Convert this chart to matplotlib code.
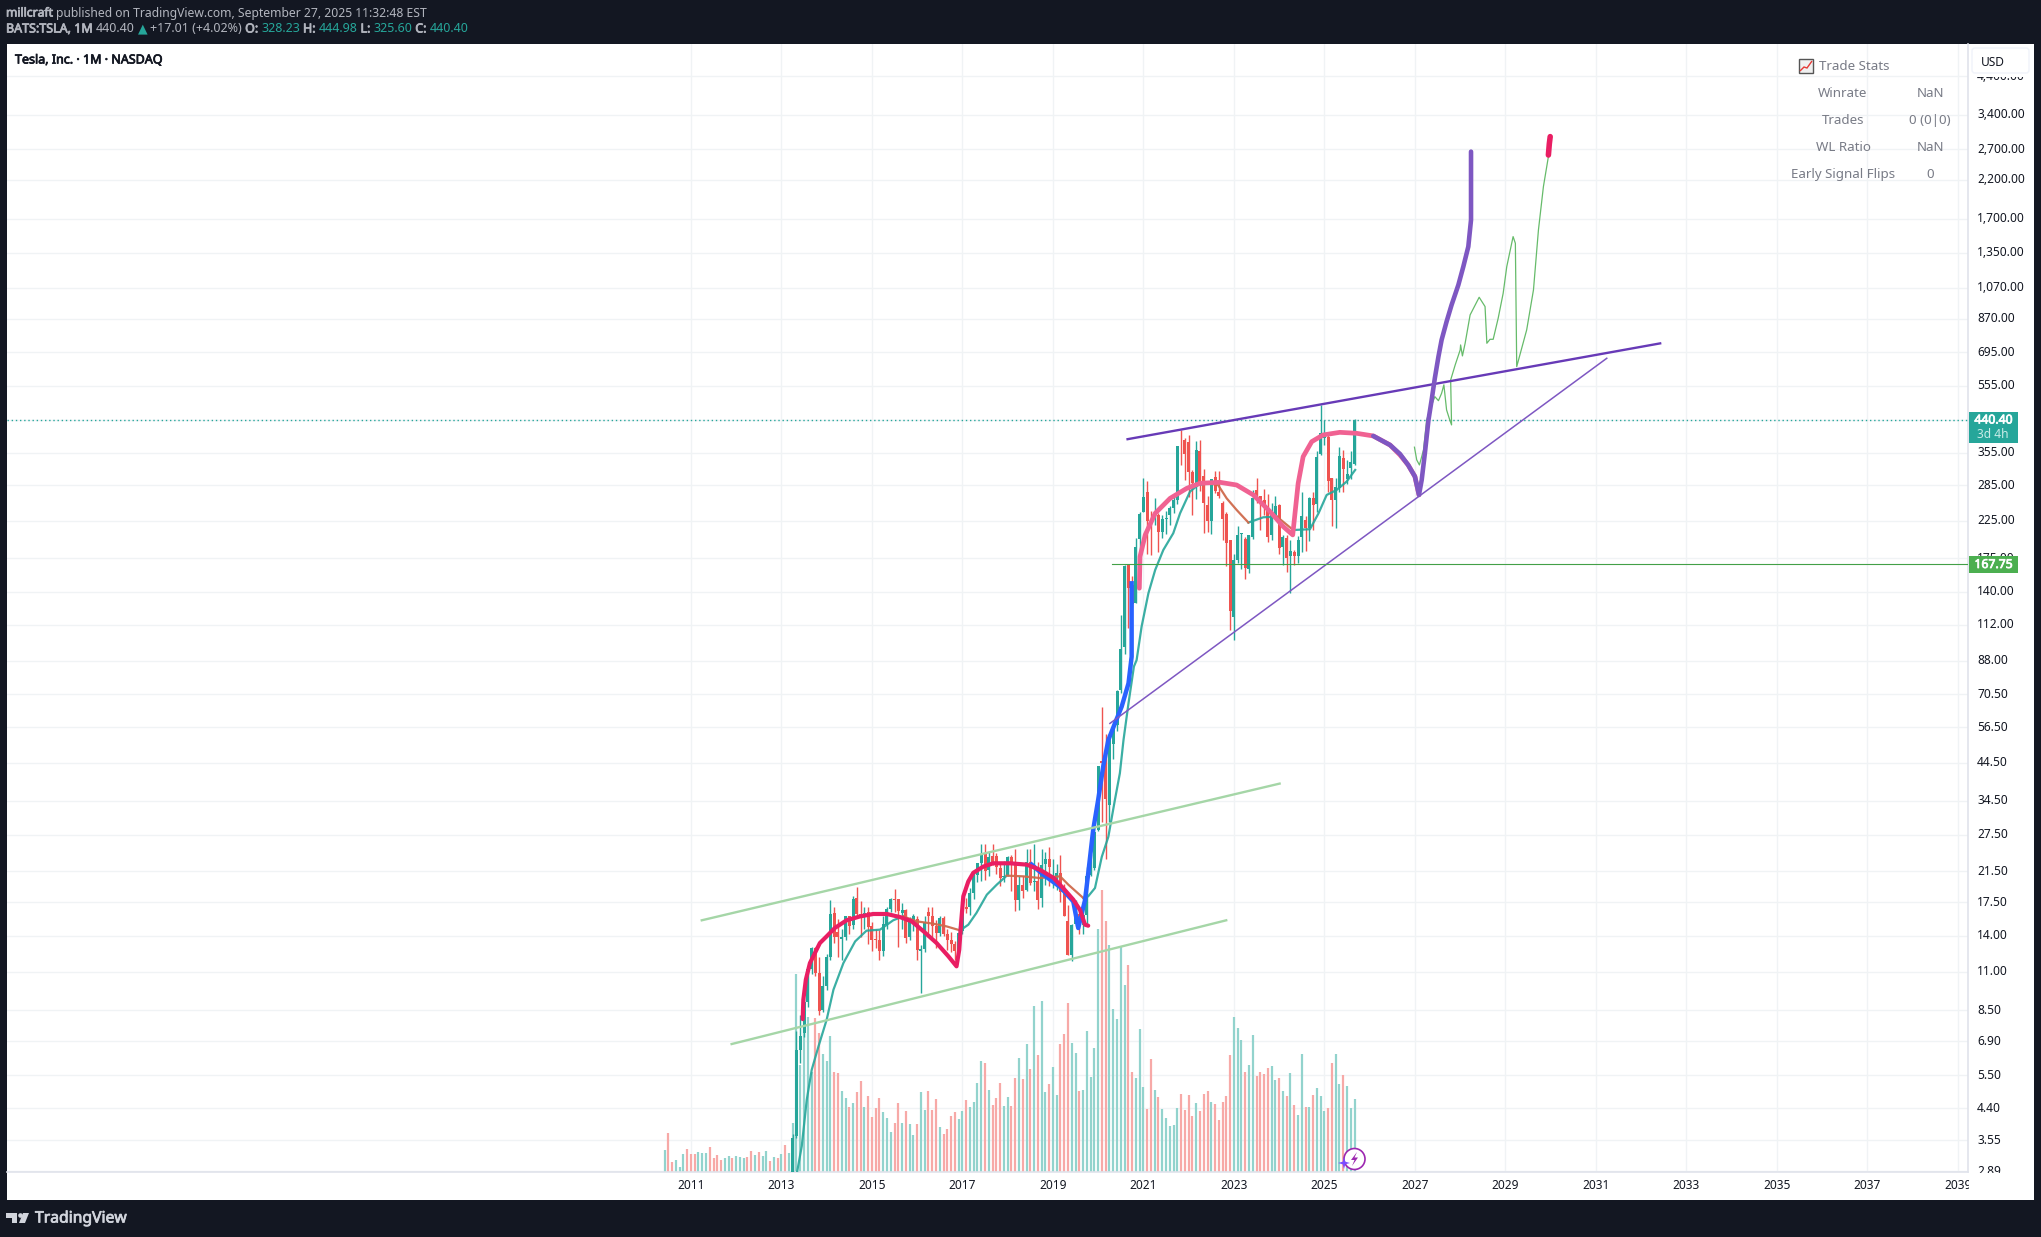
import matplotlib
matplotlib.use("Agg")
import numpy as np
import matplotlib.pyplot as plt
import matplotlib.patheffects as pe
from matplotlib.patches import Rectangle, FancyBboxPatch, Circle, Polygon
from matplotlib.transforms import Affine2D

plt.rcParams['font.family'] = ['Noto Sans', 'DejaVu Sans']

# monthly candles, Apr 2013 to Sep 2025
opens = [2.53, 3.66, 6.5, 7.3, 9.0, 11.2, 12.9, 10.9, 8.5,
         10.0, 12.1, 16.3, 14.3, 13.7, 13.9, 16.0, 15.0, 18.0, 16.2, 16.0, 16.4,
         14.9, 13.7, 13.6, 12.6, 15.0, 16.7, 17.9, 17.9, 16.3, 16.6, 13.9, 15.4,
         15.6, 12.6, 12.8, 16.4, 16.0, 14.9, 14.2, 15.7, 14.1, 13.6, 13.2, 12.7,
         14.4, 17.0, 17.0, 18.6, 21.0, 22.7, 24.2, 21.7, 23.8, 23.9, 22.0, 20.7,
         21.0, 23.6, 22.9, 17.7, 19.6, 19.0, 22.9, 20.0, 20.1, 18.0, 22.6, 23.4,
         20.4, 20.4, 21.3, 18.8, 15.4, 12.3, 15.1, 16.2, 15.0, 16.1, 21.0, 22.0,
         28.3, 44.9, 47.0, 33.6, 50.3, 57.3, 72.2, 96.6, 167.4, 146, 130, 199,
         239, 273, 225, 229, 234, 208, 227, 233, 245, 259, 381, 386,
         382, 311, 290, 358, 303, 249, 224, 302, 272, 254, 235, 197,
         118, 173, 206, 199, 163, 202, 276, 266, 258, 244, 205, 234,
         250, 188, 200, 177, 182, 178, 202, 226, 214, 262, 252, 352,
         390, 394, 300, 259, 280, 343, 298, 320, 328.23]
highs = [3.7, 7.4, 8.25, 9.2, 11.3, 13.0, 12.95, 12.1, 10.7,
         12.4, 17.8, 17.0, 15.6, 14.6, 16.0, 15.9, 18.2, 19.4, 17.6, 16.9, 16.9,
         15.3, 14.6, 14.5, 15.9, 17.0, 18.0, 19.1, 17.9, 17.4, 16.7, 15.8, 16.2,
         15.9, 13.1, 15.9, 17.0, 16.9, 15.5, 15.9, 15.9, 14.6, 14.3, 13.5, 14.9,
         17.2, 18.0, 19.3, 21.6, 22.8, 25.8, 25.9, 24.7, 25.8, 24.3, 22.9, 23.0,
         23.9, 24.0, 24.9, 20.9, 20.8, 24.9, 24.9, 25.8, 22.9, 24.9, 24.5, 25.3,
         23.4, 22.6, 24.0, 19.7, 17.2, 15.1, 17.7, 16.4, 16.9, 22.1, 24.2, 29.0,
         43.5, 64.6, 53.8, 53.8, 56.0, 72.5, 120, 167, 167, 155, 200, 239,
         300, 293, 240, 261, 236, 233, 240, 248, 265, 371, 414, 390,
         400, 315, 384, 385, 318, 265, 298, 314, 313, 257, 238, 198,
         180, 217, 207, 202, 204, 276, 300, 266, 278, 269, 253, 265,
         252, 205, 204, 198, 185, 203, 272, 232, 264, 273, 358, 488,
         440, 400, 300, 300, 368, 362, 338, 359, 444.98]
lows = [2.5, 3.6, 5.95, 7.1, 8.7, 10.8, 10.7, 8.2, 8.4,
        9.7, 11.9, 13.3, 12.1, 11.9, 13.6, 14.1, 14.6, 15.9, 13.9, 14.6, 13.2,
        12.6, 12.9, 11.9, 12.2, 14.6, 16.4, 16.4, 13.0, 14.6, 13.3, 13.6, 14.4,
        11.9, 9.5, 12.5, 13.9, 13.9, 12.9, 14.0, 14.0, 12.7, 12.5, 11.9, 12.5,
        14.1, 16.3, 16.1, 17.9, 20.0, 20.2, 20.3, 20.8, 22.5, 21.1, 19.5, 20.0,
        20.9, 18.9, 16.5, 16.6, 18.0, 18.9, 19.6, 18.9, 16.7, 16.9, 19.6, 19.5,
        19.2, 19.0, 17.5, 15.9, 12.3, 11.8, 14.9, 14.1, 14.1, 14.9, 20.9, 21.7,
        28.1, 30.0, 23.4, 30.0, 45.6, 55.2, 71.0, 92.0, 110, 126, 130, 180,
        239, 180, 179, 219, 182, 200, 206, 218, 236, 252, 326, 295,
        264, 233, 260, 275, 207, 208, 206, 271, 262, 198, 166, 108,
        101, 169, 163, 152, 158, 199, 254, 212, 234, 195, 197, 228,
        180, 167, 160, 139, 167, 169, 182, 183, 196, 212, 238, 349,
        373, 272, 217, 214, 272, 273, 288, 297, 325.6]
closes = [3.6, 6.5, 7.16, 8.95, 11.2, 12.9, 10.9, 8.45, 10.0,
          12.1, 16.2, 13.9, 13.9, 13.9, 16.0, 14.9, 17.9, 16.2, 16.1, 16.3, 14.8,
          13.6, 13.6, 12.6, 15.1, 16.7, 17.9, 17.8, 16.5, 16.6, 13.8, 15.4, 16.0,
          12.7, 12.8, 15.3, 16.0, 14.9, 14.2, 15.7, 14.1, 13.6, 13.2, 12.6, 14.2,
          16.9, 16.7, 18.6, 20.9, 22.7, 24.1, 21.6, 23.7, 22.7, 22.1, 20.6, 20.8,
          23.6, 22.9, 17.7, 19.6, 18.9, 22.9, 19.9, 20.1, 17.7, 22.5, 23.4, 22.2,
          20.5, 21.3, 18.7, 15.9, 12.3, 15.0, 16.1, 15.0, 16.1, 20.9, 22.0, 27.9,
          43.4, 44.5, 34.9, 52.1, 55.7, 71.9, 95.4, 166.1, 143, 129, 189, 235,
          264, 225, 222, 236, 208, 227, 229, 245, 258, 371, 380, 352,
          312, 290, 360, 290, 253, 224, 297, 275, 265, 227, 194, 123,
          173, 205, 207, 164, 204, 262, 267, 258, 250, 201, 240, 248,
          187, 201, 175, 183, 178, 197, 232, 214, 261, 250, 345, 404,
          404, 293, 259, 282, 346, 318, 308, 334, 440.40]

# monthly volume, Jun 2010 to Sep 2025, in pane pixels since the scale is hidden
volumes = [22, 39, 10, 12, 5, 18, 23,
           18, 18, 20, 19, 19, 25, 14, 17, 12, 14, 16, 14,
           16, 15, 14, 15, 21, 17, 20, 16, 21, 11, 15, 14,
           18, 27, 19, 49, 198, 107, 155, 155, 100, 154, 139, 118,
           111, 136, 100, 99, 81, 74, 65, 69, 80, 91, 65, 76,
           55, 64, 74, 60, 54, 40, 49, 69, 49, 61, 48, 37,
           48, 80, 62, 81, 62, 73, 45, 38, 43, 56, 60, 53,
           61, 72, 65, 70, 89, 111, 109, 82, 67, 74, 89, 66,
           75, 66, 94, 114, 93, 128, 103, 166, 117, 171, 80, 88,
           105, 77, 128, 138, 169, 129, 119, 81, 82, 141, 95, 124,
           243, 282, 251, 227, 163, 153, 226, 187, 207, 100, 94, 143,
           85, 63, 113, 82, 75, 63, 54, 46, 47, 64, 78, 62,
           77, 56, 69, 61, 78, 81, 70, 68, 52, 70, 76, 117,
           155, 144, 132, 100, 107, 137, 96, 100, 98, 104, 106, 92,
           94, 81, 76, 99, 67, 57, 118, 65, 65, 77, 84, 76,
           61, 64, 109, 118, 88, 97, 86, 64, 73]
volume_dirs = ("grrgggr" "rrgggrrrrggr" "gggrrgrggrgr" "grgggggggrrg" "ggrrggrgrrgr"
               "rrrgggrrgrgg" "rggrrrgrrrrg" "grggggrgrrrg" "grrgrgrgrggr" "ggrrrggrgggg"
               "grrgggggrrgg" "grrgrgggggrr" "rrgrrrgrrrrr" "gggrggrrrrgg" "rgrgrggrgrgg"
               "grrggrggg")

# price scale
price_ticks = [4400, 3400, 2700, 2200, 1700, 1350, 1070, 870, 695, 555, 440, 355, 285, 225,
               175, 140, 112, 88, 70.5, 56.5, 44.5, 34.5, 27.5, 21.5, 17.5, 14, 11, 8.5,
               6.9, 5.5, 4.4, 3.55, 2.89]
year_ticks = list(range(2011, 2041, 2))

# moving average pieces: teal where above, orange where the two colours overlap
ema_t1 = [2013.35, 2013.45, 2013.56, 2013.67, 2013.82, 2014.0, 2014.15, 2014.37, 2014.63, 2014.88, 2015.18, 2015.47, 2015.69]
ema_p1 = [2.89, 3.42, 4.66, 5.7, 6.67, 7.97, 9.74, 11.64, 13.46, 14.46, 14.56, 15.5, 15.91]
ema_t2 = [2016.95, 2017.13, 2017.31, 2017.54, 2017.76, 2017.98]
ema_p2 = [14.49, 15.05, 16.28, 18.4, 19.68, 20.9]
ema_t3 = [2019.67, 2019.78, 2019.93, 2020.08, 2020.225, 2020.37, 2020.48, 2020.56, 2020.67, 2020.79, 2020.85,
          2020.96, 2021.11, 2021.26, 2021.44, 2021.66, 2021.81, 2022.03, 2022.21, 2022.43]
ema_p3 = [18.0, 18.2, 19.24, 23.7, 27.1, 34.7, 41.5, 51.8, 66.2, 84.7, 88.5,
          110.7, 138.3, 161.7, 184.9, 206.8, 236.3, 273.3, 285.6, 288.9]
ema_t4 = [2023.32, 2023.65, 2023.95]
ema_p4 = [222.1, 230.1, 231.1]
ema_t5 = [2024.31, 2024.68, 2024.87, 2025.05, 2025.27, 2025.49, 2025.68]
ema_p5 = [211.3, 212.4, 236.3, 267.2, 276.3, 292.1, 315.9]
orange_t1 = [2015.69, 2015.99, 2016.36, 2016.65, 2016.95]
orange_p1 = [15.91, 15.39, 15.15, 14.88, 14.49]
orange_t2 = [2017.98, 2018.35, 2018.71, 2019.16, 2019.34, 2019.67]
orange_p2 = [20.9, 20.8, 20.57, 20.8, 19.68, 18.0]
orange_t3 = [2022.43, 2022.65, 2022.84, 2023.06, 2023.32]
orange_p3 = [288.9, 285.6, 261.2, 241.7, 222.1]
orange_t4 = [2023.95, 2024.31]
orange_p4 = [231.1, 211.3]

# drawn curves
red_t = [2013.47, 2013.485, 2013.54, 2013.63, 2013.74, 2013.85, 2014.0, 2014.18, 2014.44, 2014.74, 2015.03, 2015.33,
         2015.62, 2015.88, 2016.14, 2016.43, 2016.69, 2016.87, 2016.93, 2016.97, 2017.02, 2017.13, 2017.24, 2017.46,
         2017.68, 2018.05, 2018.42, 2018.71, 2019.01, 2019.23, 2019.45, 2019.6, 2019.71, 2019.78]
red_p = [8.0, 9.11, 10.42, 11.64, 12.45, 13.31, 13.92, 14.72, 15.5, 15.91, 16.17, 16.17,
         15.84, 15.39, 14.4, 13.31, 12.18, 11.39, 12.73, 15.2, 18.2, 20.1, 21.3, 22.2,
         22.7, 22.7, 22.5, 21.75, 20.6, 19.2, 17.8, 16.6, 15.05, 14.95]
blue_t = [2018.53, 2018.79, 2019.16, 2019.45, 2019.56, 2019.71, 2019.78, 2019.89, 2020.0, 2020.11, 2020.225,
          2020.37, 2020.52, 2020.67, 2020.74, 2020.74]
blue_p = [22.5, 21.03, 19.37, 17.59, 14.72, 17.75, 21.2, 28.4, 34.7, 43.3, 51.8, 57.9, 64.8, 75.7, 90.5, 147.9]
pink_t = [2020.91, 2020.925, 2021.04, 2021.26, 2021.59, 2021.96, 2022.25, 2022.69, 2023.06, 2023.43, 2023.8, 2024.09,
          2024.3, 2024.35, 2024.42, 2024.53, 2024.72, 2024.97, 2025.34, 2025.71, 2026.08, 2026.45, 2026.67, 2026.85, 2027.0, 2027.09]
pink_p = [143.1, 176.8, 204.5, 236.3, 261.2, 279.4, 288.9, 290.8, 285.6, 267.2, 239, 216.2,
          204.5, 236.3, 288.9, 345.3, 381.8, 399.2, 406.3, 403.7, 396.6, 373.3, 349.2, 326.6, 302.3, 267.3]
purple_t = [2026.08, 2026.45, 2026.67, 2026.85, 2027.0, 2027.09, 2027.15, 2027.22, 2027.3, 2027.37, 2027.44, 2027.52,
            2027.59, 2027.7, 2027.81, 2027.96, 2028.07, 2028.18, 2028.24, 2028.24]
purple_p = [396.6, 373.3, 351.5, 326.6, 302.3, 267.3, 295.5, 353, 441.4, 504.7, 583.4, 674.4,
            754.1, 852.5, 953, 1089.6, 1232, 1408, 1684, 2660]
path_t = [2026.99, 2027.04, 2027.10, 2027.19, 2027.26, 2027.33, 2027.44, 2027.52, 2027.59, 2027.64, 2027.70, 2027.77,
          2027.81, 2027.79, 2027.89, 2028.0, 2028.01, 2028.05, 2028.11, 2028.22, 2028.42, 2028.55, 2028.59, 2028.66,
          2028.73, 2028.84, 2028.95, 2029.03, 2029.17, 2029.22, 2029.25, 2029.47, 2029.62, 2029.73, 2029.84, 2029.95]
path_p = [367.8, 337.8, 326.6, 361.2, 441.4, 472, 516, 502.2, 527.7, 558.3, 472, 441.4,
          427, 576.8, 637.9, 705, 729.3, 677.6, 737.6, 891.7, 1003.4, 943, 737.6, 757.4,
          757.4, 871.8, 1030, 1232, 1506, 1440, 630.8, 806.5, 1054, 1574.6, 2105, 2572.6]
tip_t = [2029.95, 2029.97, 2029.99]
tip_p = [2600, 2800, 2941]

# trend lines
channel_up_t, channel_up_p = [2011.24, 2024.01], [15.5, 38.7]
channel_dn_t, channel_dn_p = [2011.9, 2022.83], [6.77, 15.5]
resist_t, resist_p = [2020.65, 2032.42], [388.1, 737]
support_t, support_p = [2020.26, 2031.24], [57.9, 667]
level_start, level_price = 2020.31, 167.75
last_price = 440.40

candle_t = 2013.25 + np.arange(len(closes)) / 12
volume_t = 2010 + 5 / 12 + np.arange(len(volumes)) / 12

W, H = 2041, 1237
BG = '#131722'
GREEN = '#26a69a'
RED = '#ef5350'
GRID = '#f0f3f5'

fig = plt.figure(figsize=(W / 100, H / 100), dpi=100, facecolor=BG)
px = Affine2D().scale(1, -1).translate(0, H)  # top-left pixel coords for the frame


def fig_rect(x0, y0, x1, y1, color, z=5, **kw):
    fig.add_artist(Rectangle((x0, y0), x1 - x0, y1 - y0, transform=px, facecolor=color,
                             edgecolor='none', zorder=z, **kw))


def fig_text(x, y, s, heavy=False, **kw):
    kw.setdefault('va', 'center')
    kw.setdefault('zorder', 7)
    t = fig.text(x, y, s, transform=px, **kw)
    # the installed Noto Sans has no real bold, so thicken with a stroke
    if heavy:
        t.set_path_effects([pe.withStroke(linewidth=0.55, foreground=t.get_color())])
    return t


def text_run(x, y, parts, size=9):
    # header lines change colour and weight mid line
    renderer = fig.canvas.get_renderer()
    for s, color, heavy in parts:
        t = fig_text(x, y, s, heavy=heavy, color=color, fontsize=size, ha='left')
        x = t.get_window_extent(renderer).x1 + 3


fig_rect(7, 44, 2034, 1200, 'white', z=0)

ax = fig.add_axes([7 / W, (H - 1172) / H, (1968 - 7) / W, (1172 - 44) / H], zorder=1)
ax.set_yscale('log')
ax.set_xlim(1995.886, 2039.223)
ax.set_ylim(2.875, 5467)

# volume first so the candles sit on top of it
vol_colors = ['#92d3cd' if d == 'g' else '#f7a9a7' for d in volume_dirs]
ax.vlines(volume_t, 0, np.array(volumes) / (1172 - 44), transform=ax.get_xaxis_transform(),
          colors=vol_colors, linewidth=1.6, zorder=2)

up = np.array(closes) >= np.array(opens)
candle_colors = [GREEN if u else RED for u in up]
ax.vlines(candle_t, lows, highs, colors=candle_colors, linewidth=1.0, zorder=3)
body_lo = np.minimum(opens, closes)
body_hi = np.maximum(opens, closes)
ax.bar(candle_t, body_hi - body_lo, bottom=body_lo, width=0.066, color=candle_colors, linewidth=0, zorder=3)

for t, p in [(ema_t1, ema_p1), (ema_t2, ema_p2), (ema_t3, ema_p3), (ema_t4, ema_p4), (ema_t5, ema_p5)]:
    ax.plot(t, p, color='#26a69a', lw=1.6, alpha=0.9, zorder=4)
for t, p in [(orange_t1, orange_p1), (orange_t2, orange_p2), (orange_t3, orange_p3), (orange_t4, orange_p4)]:
    ax.plot(t, p, color='#cf6a4c', lw=1.6, alpha=0.95, zorder=4)

ax.plot(blue_t, blue_p, color='#2962ff', lw=3.2, zorder=5)
ax.plot(red_t, red_p, color='#e91e63', lw=3.0, zorder=6, solid_capstyle='round')
ax.plot(pink_t, pink_p, color='#f06292', lw=3.4, zorder=6, solid_capstyle='round')
ax.plot(purple_t, purple_p, color='#7e57c2', lw=3.3, zorder=7, solid_capstyle='round')
ax.plot(path_t, path_p, color='#66bb6a', lw=0.9, zorder=6)
ax.plot(tip_t, tip_p, color='#e91e63', lw=4.0, zorder=7, solid_capstyle='round')

ax.plot(channel_up_t, channel_up_p, color='#a5d6a7', lw=1.7, zorder=5)
ax.plot(channel_dn_t, channel_dn_p, color='#a5d6a7', lw=1.7, zorder=5)
ax.plot(resist_t, resist_p, color='#673ab7', lw=1.7, zorder=6)
ax.plot(support_t, support_p, color='#7e57c2', lw=1.1, zorder=6)
ax.plot([level_start, 2039.223], [level_price, level_price], color='#43a047', lw=0.8, zorder=6)
ax.axhline(last_price, color=GREEN, lw=1.0, linestyle=(0, (1, 2)), zorder=4)

# axes furniture
ax.set_xticks(year_ticks)
ax.set_xticklabels([str(y) for y in year_ticks], fontsize=8.6, color='#131722')
ax.set_yticks(price_ticks)
ax.set_yticklabels([f'{v:,.2f}' for v in price_ticks], fontsize=8.6, color='#131722', va='center')
ax.minorticks_off()
ax.yaxis.tick_right()
ax.tick_params(axis='both', length=0)
ax.tick_params(axis='y', pad=6.5)
ax.tick_params(axis='x', pad=5)
ax.grid(True, color=GRID, lw=1.0, zorder=0)
ax.set_axisbelow(True)
for side in ['top', 'left']:
    ax.spines[side].set_visible(False)
for side in ['right', 'bottom']:
    ax.spines[side].set_color('#e0e3eb')
    ax.spines[side].set_linewidth(1.2)

# cut the last date label at the price scale, and the top price label under the USD strip
fig_rect(1969, 1173, 2034, 1200, 'white')
fig_rect(1969, 44, 2034, 77, 'white')

# price tags
fig_rect(1969, 412, 2018, 443, GREEN)
fig_text(1993.5, 420, '440.40', heavy=True, color='white', fontsize=8.8, ha='center')
fig_text(1977, 435, '3d 4h', color='#c8ebe7', fontsize=8.6, ha='left')
fig_rect(1969, 556, 2018, 573, '#4caf50')
fig_text(1993.5, 564.5, '167.75', heavy=True, color='white', fontsize=8.8, ha='center')

# USD box
fig.add_artist(FancyBboxPatch((1975, 51), 51, 19, boxstyle='round,pad=3', transform=px,
                              facecolor='white', edgecolor='#f0f3fa', lw=1, zorder=6))
fig_text(1981, 62, 'USD', color='#131722', fontsize=8.6, ha='left')

# strategy stats table
STAT = '#787b86'
fig.add_artist(Rectangle((1799, 59), 14, 14, transform=px, facecolor='#f0f0f0', edgecolor='#555555', lw=1, zorder=5))
fig.add_artist(Polygon([(1800, 71), (1804, 67), (1807, 68), (1812, 61)], closed=False, fill=False,
                       transform=px, edgecolor='#e53935', lw=1, zorder=6))
fig_text(1819, 66.5, 'Trade Stats', color=STAT, fontsize=9.6, ha='left')
stat_names = ['Winrate', 'Trades', 'WL Ratio', 'Early Signal Flips']
stat_values = ['NaN', '0 (0|0)', 'NaN', '0']
for i, (name, value) in enumerate(zip(stat_names, stat_values)):
    fig_text(1843, 93.5 + i * 27, name, color=STAT, fontsize=9.6, ha='center')
    fig_text(1930, 93.5 + i * 27, value, color=STAT, fontsize=9.6, ha='center')

# header
fig_text(15, 60, 'Tesla, Inc. · 1M · NASDAQ', heavy=True, color='#131722', fontsize=9.0, ha='left')
HEAD = '#b2b5be'
text_run(6, 13, [('millcraft', HEAD, True),
                 ('published on TradingView.com, September 27, 2025 11:32:48 EST', HEAD, False)], size=8.75)
text_run(6, 29, [('BATS:TSLA, 1M', HEAD, True), ('440.40', HEAD, False), ('▲', GREEN, False),
                 ('+17.01 (+4.02%)', HEAD, False), ('O:', HEAD, True), ('328.23', GREEN, False),
                 ('H:', HEAD, True), ('444.98', GREEN, False), ('L:', HEAD, True), ('325.60', GREEN, False),
                 ('C:', HEAD, True), ('440.40', GREEN, False)], size=9)

# footer logo
LOGO = '#d1d4dc'
fig.add_artist(Polygon([(6, 1213), (17, 1213), (17, 1223), (12, 1223), (12, 1218), (6, 1218)], transform=px,
                       facecolor=LOGO, edgecolor='none', zorder=6))
fig.add_artist(Circle((20.5, 1215.5), 2.3, transform=px, facecolor=LOGO, edgecolor='none', zorder=6))
fig.add_artist(Polygon([(23, 1213), (29, 1213), (25, 1223), (19, 1223)], transform=px,
                       facecolor=LOGO, edgecolor='none', zorder=6))
fig_text(35, 1218.5, 'TradingView', heavy=True, color=LOGO, fontsize=11.3, ha='left')

# assistant badge near the last bar
fig.add_artist(Circle((1354.5, 1159), 10.5, transform=px, facecolor='white', edgecolor='#9c27b0', lw=1.2, zorder=6))
fig.add_artist(Polygon([(1357, 1152), (1351, 1160), (1354.5, 1160), (1352, 1166), (1358, 1157.5), (1354.5, 1157.5)],
                       transform=px, facecolor='#9c27b0', edgecolor='none', zorder=7))
fig.add_artist(Polygon([(1344, 1157), (1345.3, 1161.7), (1350, 1163), (1345.3, 1164.3), (1344, 1169),
                        (1342.7, 1164.3), (1338, 1163), (1342.7, 1161.7)],
                       transform=px, facecolor='#7c4dff', edgecolor='none', zorder=7))

fig.savefig('out.png', dpi=100, facecolor=BG)
